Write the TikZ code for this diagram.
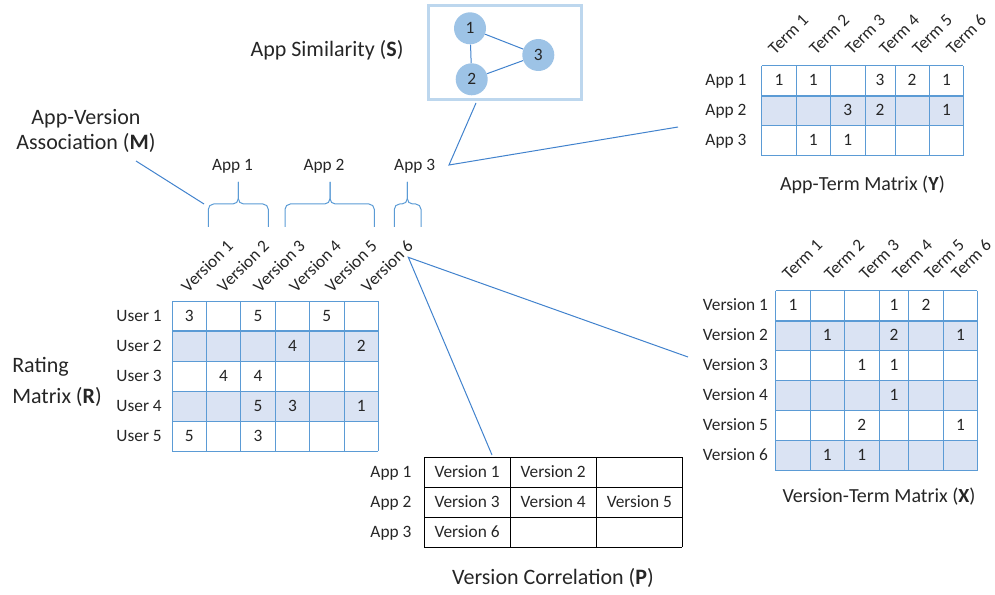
\documentclass[tikz,border=0pt]{standalone}
\usepackage{fontspec}
\setmainfont{Carlito}
\usepackage{tikz}

\definecolor{ink}{RGB}{38,38,38}
\definecolor{gridblue}{RGB}{91,155,213}
\definecolor{leadblue}{RGB}{65,130,205}
\definecolor{rowfill}{RGB}{218,227,243}
\definecolor{appfill}{RGB}{157,195,230}
\definecolor{boxline}{RGB}{189,215,238}

% brace over the versions of one app: left end, tip, right end
\newcommand{\appbrace}[3]{%
  \draw[grid,rounded corners=4pt] (#1,227) -- (#1,204) -- (#2,204) -- (#2,182);
  \draw[grid,rounded corners=4pt] (#3,227) -- (#3,204) -- (#2,204) -- (#2,182);}

\begin{document}
\begin{tikzpicture}[x=0.75pt,y=-0.75pt,
    every node/.style={text=ink,inner sep=0,font=\fontsize{13}{15}\selectfont},
    cell/.style={text height=9pt,text depth=1.5pt},
    rowlab/.style={cell,anchor=east},
    collab/.style={anchor=base west,rotate=45},
    title/.style={font=\fontsize{16.5}{19.5}\selectfont},
    caption/.style={font=\fontsize{15}{18}\selectfont},
    grid/.style={gridblue,line width=0.75pt},
    sep/.style={gridblue,line width=1.6pt},
    lead/.style={leadblue,line width=0.75pt},
    app/.style={circle,fill=appfill,minimum size=24pt}]
  \useasboundingbox (0,0) rectangle (995,595);

  % app similarity
  \node[draw=boxline,line width=2.25pt,minimum width=114.5pt,minimum height=70.5pt] (simbox) at (504.7,53) {};
  \node[app] (s1) at (470,28.3) {1};
  \node[app] (s2) at (471.7,79.3) {2};
  \node[app] (s3) at (538.3,55) {3};
  \draw[lead] (s1) -- (s2) (s1) -- (s3) (s2) -- (s3);
  \node[title] (simlab) at (327,50) {App Similarity (\textbf{S})};

  % app-version association
  \node[title,align=center,font=\fontsize{16.5}{19.3}\selectfont] (assoc) at (86,131) {App-Version\\Association (\textbf{M})};
  \appbrace{208.3}{238.3}{268.3}
  \appbrace{285}{330}{374.3}
  \appbrace{394.3}{407.3}{421}
  \node[cell] (app1) at (232.5,166) {App 1};
  \node[cell] (app2) at (324,166) {App 2};
  \node[cell] (app3) at (414.7,166) {App 3};

  % rating matrix
  \foreach \r in {2,4} \fill[rowfill] (172,271+30*\r) rectangle ++(206.4,30);
  \foreach \c in {0,...,6} \draw[grid] (172+34.4*\c,301) -- ++(0,150);
  \foreach \r in {0,...,5} \draw[grid] (172,301+30*\r) -- ++(206.4,0);
  \draw[sep] (172,331) -- ++(206.4,0);
  \foreach \r/\c/\v in {1/1/3,1/3/5,1/5/5,2/4/4,2/6/2,3/2/4,3/3/4,4/3/5,4/4/3,4/6/1,5/1/5,5/3/3}
    \node[cell] (r\r\c) at (154.8+34.4*\c,286+30*\r) {\v};
  \foreach \r in {1,...,5} \node[rowlab] (user\r) at (162,286+30*\r) {User \r};
  \foreach \c in {1,...,6} \node[collab] (ver\c) at (152+36*\c,293.5) {Version \c};
  \node[title,align=left,anchor=west,font=\fontsize{16.5}{23}\selectfont] (rlab) at (12,382) {Rating\\Matrix (\textbf{R})};

  % app-term matrix
  \fill[rowfill] (761.7,96) rectangle (963.3,126);
  \foreach \x in {761.7,796,830.7,865,895,929,963.3} \draw[grid] (\x,66) -- (\x,156);
  \foreach \y in {66,96,126,156} \draw[grid] (761.7,\y) -- (963.3,\y);
  \draw[sep] (761.7,96) -- (963.3,96);
  \foreach \r/\c/\v in {1/1/1,1/2/1,1/4/3,1/5/2,1/6/1,2/3/3,2/4/2,2/6/1,3/2/1,3/3/1}{
    \pgfmathsetmacro{\cx}{761.7+34.4*(\c-0.5)-2.2*(\c==4)-4.4*(\c>4)}
    \node[cell] (y\r\c) at (\cx,51+30*\r) {\v};}
  \foreach \r in {1,...,3} \node[rowlab] (yapp\r) at (746.7,51+30*\r) {App \r};
  \foreach \c/\x in {1/775,2/816,3/852,4/886,5/919,6/953} \node[collab] (yterm\c) at (\x,56) {Term \c};
  \node[caption] (ylab) at (862.5,185) {App-Term Matrix (\textbf{Y})};

  % version-term matrix
  \foreach \r in {2,4,6} \fill[rowfill] (775.7,260.7+30*\r) rectangle (977.3,290.7+30*\r);
  \foreach \x in {775.7,810,844.3,879,908.3,943.3,977.3} \draw[grid] (\x,290.7) -- (\x,470.7);
  \foreach \r in {0,...,6} \draw[grid] (775.7,290.7+30*\r) -- (977.3,290.7+30*\r);
  \draw[sep] (775.7,320.7) -- (977.3,320.7);
  \foreach \r/\c/\v in {1/1/1,1/4/1,1/5/2,2/2/1,2/4/2,2/6/1,3/3/1,3/4/1,4/4/1,5/3/2,5/6/1,6/2/1,6/3/1}{
    \pgfmathsetmacro{\cx}{775.7+34.4*(\c-0.5)-2.2*(\c==4)-4.4*(\c>4)}
    \node[cell] (x\r\c) at (\cx,275.7+30*\r) {\v};}
  \foreach \r in {1,...,6} \node[rowlab] (xver\r) at (768.3,275.7+30*\r) {Version \r};
  \foreach \c/\x in {1/789,2/831,3/866,4/899,5/931,6/958} \node[collab] (xterm\c) at (\x,281) {Term \c};
  \node[caption] (xlab) at (879,497) {Version-Term Matrix (\textbf{X})};

  % version correlation
  \foreach \x in {424,510.7,596.7,682.3} \draw[black,line width=0.75pt] (\x,457.3) -- (\x,547.3);
  \foreach \y in {457.3,487.3,517.3,547.3} \draw[black,line width=0.75pt] (424,\y) -- (682.3,\y);
  \foreach \r/\c/\v in {1/1/1,1/2/2,2/1/3,2/2/4,2/3/5,3/1/6}
    \node[cell] (p\r\c) at (381+86.1*\c,442.3+30*\r) {Version \v};
  \foreach \r in {1,...,3} \node[rowlab] (papp\r) at (411.7,442.3+30*\r) {App \r};
  \node[title] (plab) at (553,578) {Version Correlation (\textbf{P})};

  % leader lines
  \coordinate (mfoot) at (136,161);
  \coordinate (b1) at (204,204);
  \coordinate (sfoot) at (476,103);
  \coordinate (a3) at (449,165);
  \coordinate (yleft) at (678,127);
  \coordinate (v6) at (408.3,257.3);
  \coordinate (xleft) at (688,357);
  \coordinate (ptop) at (492,455);
  \draw[lead] (mfoot) -- (b1);
  \draw[lead] (sfoot) -- (a3) -- (yleft);
  \draw[lead] (xleft) -- (v6) -- (ptop);
\end{tikzpicture}
\end{document}
